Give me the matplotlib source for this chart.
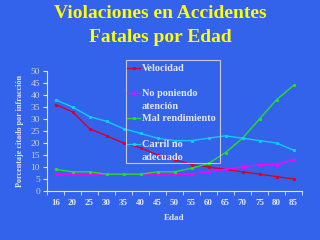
import matplotlib
matplotlib.use("Agg")
import matplotlib.pyplot as plt
from matplotlib.lines import Line2D
from matplotlib.patches import Rectangle

ages = ["16", "20", "25", "30", "35", "40", "45", "50", "55", "60", "65", "70", "75", "80", "85"]
velocidad = [36, 33, 26, 23, 20, 18, 15, 13, 11, 10, 9, 8, 7, 6, 5]
no_poniendo = [7, 7, 7, 7, 7, 7, 7, 7, 7, 8, 9, 10, 11, 11, 13]
mal_rend = [9, 8, 8, 7, 7, 7, 8, 8, 9.5, 11.5, 16, 22, 30, 38, 44]
carril = [38, 35, 31, 29, 26, 24, 22, 21, 21, 22, 23, 22, 21, 20, 17]

series_labels = ["Velocidad", "No poniendo\natención", "Mal rendimiento", "Carril no\nadecuado"]
series_values = [velocidad, no_poniendo, mal_rend, carril]
colors = ["#D8002A", "#FF00FF", "#22E022", "#10CCFF"]

bg = "#3363EB"
fg = "#E6E6F0"
serif = ["Liberation Serif", "DejaVu Serif"]

fig = plt.figure(figsize=(3.2, 2.4), dpi=100, facecolor=bg)
ax = fig.add_axes([47/320, 1-191/240, 255/320, 120/240])
ax.set_facecolor(bg)

x = list(range(len(ages)))
for vals, c in zip(series_values, colors):
    ax.plot(x, vals, color=c, lw=1.0, marker="s", ms=1.2, mec=c, mfc=c)

ax.set_xlim(-0.5, len(ages)-0.5)
ax.set_ylim(0, 50)
ax.set_yticks(range(0, 51, 5))
ax.set_xticks(x)
ax.set_xticklabels(ages)
ax.set_xticks([i - 0.5 for i in range(len(ages)+1)], minor=True)
ax.tick_params(axis="x", which="major", length=0, pad=6, labelsize=6.5, colors=fg)
ax.tick_params(axis="x", which="minor", length=3, color=fg, direction="out")
ax.tick_params(axis="y", length=3, color=fg, labelsize=6.8, labelcolor="#D0D0E0", pad=2)
for lab in ax.get_xticklabels():
    lab.set_family(serif)
    lab.set_fontweight("bold")
for lab in ax.get_yticklabels():
    lab.set_family(serif)
for s in ["top", "right"]:
    ax.spines[s].set_visible(False)
for s in ["left", "bottom"]:
    ax.spines[s].set_color(fg)
    ax.spines[s].set_linewidth(0.8)

ax.set_xlabel("Edad", family=serif, fontweight="bold", fontsize=6.5, color=fg, labelpad=5)
ax.set_ylabel("Porcentaje citado por infracción", family=serif, fontweight="bold",
              fontsize=5.9, color=fg, labelpad=5)

fig.text(0.5, 1-14/240, "Violaciones en Accidentes", ha="center", va="center",
         family=serif, fontweight="bold", fontsize=14, color="#FFFF00")
fig.text(0.5, 1-37/240, "Fatales por Edad", ha="center", va="center",
         family=serif, fontweight="bold", fontsize=14, color="#FFFF00")

# legend drawn in figure pixel coordinates
def fx(px):
    return px / 320
def fy(py):
    return 1 - py / 240

fig.patches.append(Rectangle((fx(126), fy(163)), fx(220) - fx(126), fy(60) - fy(163),
                             transform=fig.transFigure, fill=False, ec="#C8C8D8", lw=0.8))
ys = [67.7, 93, 118, 144]
for label, c, yy in zip(series_labels, colors, ys):
    fig.lines.append(Line2D([fx(127), fx(140)], [fy(yy), fy(yy)], transform=fig.transFigure,
                            color=c, lw=1.0))
    fig.lines.append(Line2D([fx(133.5)], [fy(yy)], transform=fig.transFigure,
                            color=c, marker="s", ms=1.2, lw=0))
    for k, part in enumerate(label.split("\n")):
        fig.text(fx(142), fy(yy + 3.4 + 13 * k), part, ha="left", va="baseline",
                 family=serif, fontweight="bold", fontsize=7.4, color=fg,
                 transform=fig.transFigure)

fig.savefig("out.png", dpi=100, facecolor=bg)
